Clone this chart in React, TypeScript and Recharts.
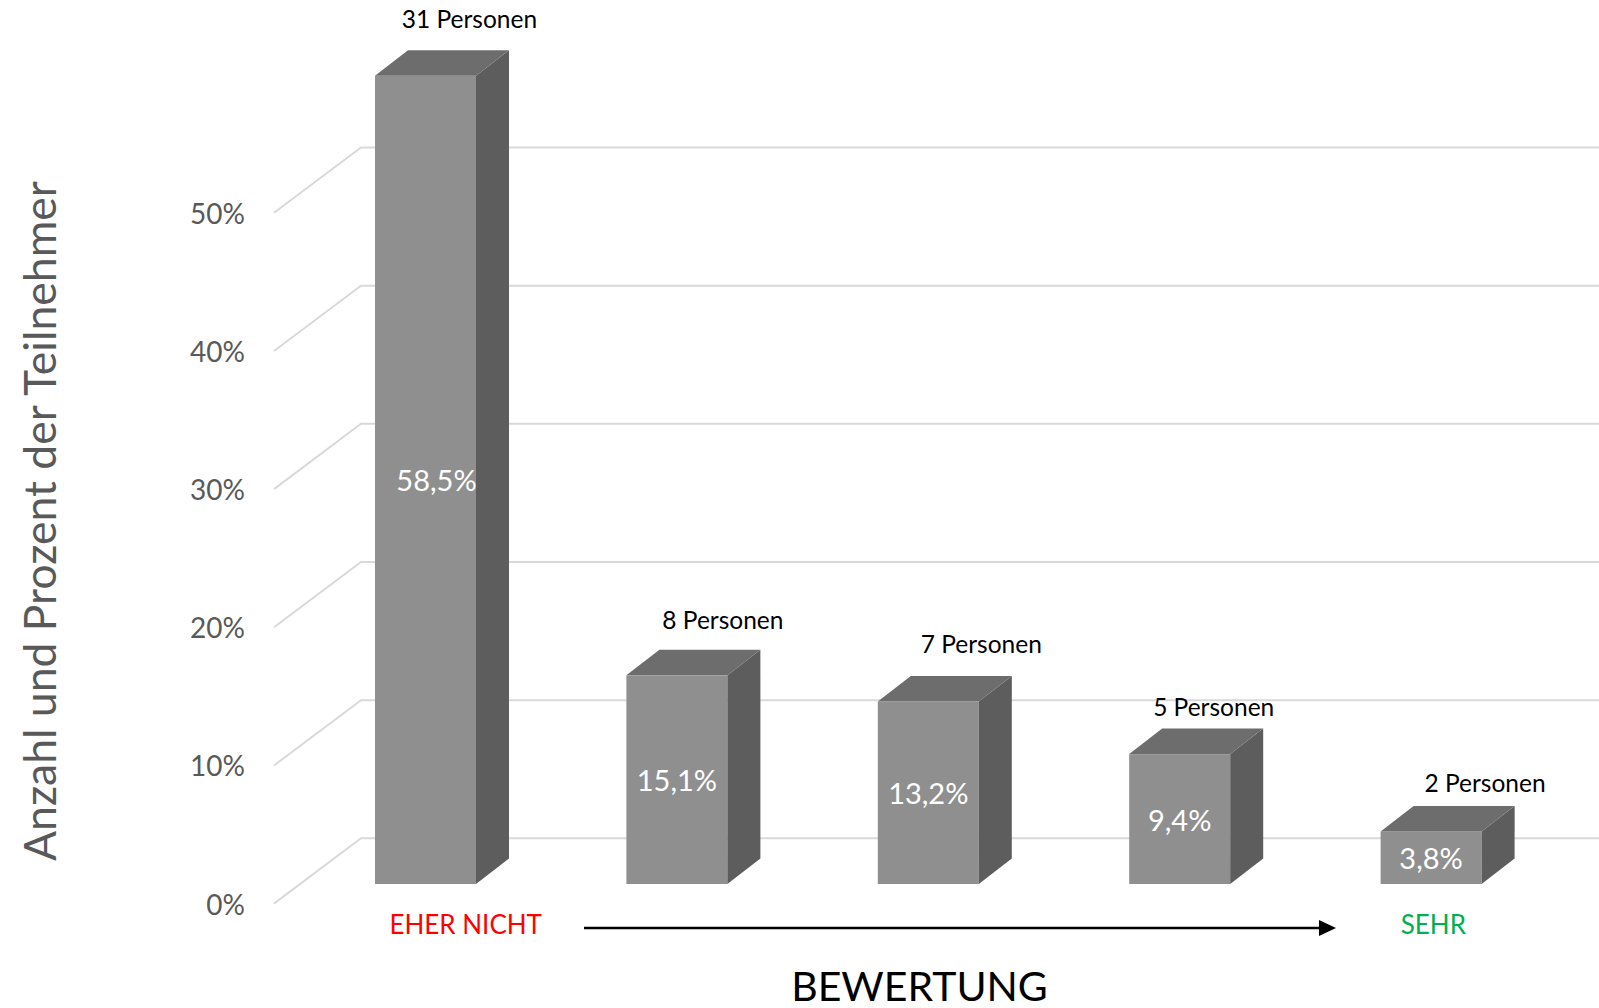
import React from "react";
import { BarChart, Bar, XAxis, YAxis, CartesianGrid, LabelList } from "recharts";

const categories = ["1", "2", "3", "4", "5"];
const percentValues = [58.5, 15.1, 13.2, 9.4, 3.8];
const personCounts = [31, 8, 7, 5, 2];
const categoryLabels = ["EHER NICHT", "", "", "", "SEHR"];
const yTicks = [0, 10, 20, 30, 40, 50];

const data = categories.map((category, i) => ({
  category,
  pct: percentValues[i],
  persons: personCounts[i],
}));

const FONT = "Lato, 'Open Sans', sans-serif";
const labelColors = ["#ff0000", "#000", "#000", "#000", "#00b050"];
const labelShift = [40, 0, 0, 0, 2];
// hand-placed data labels in the original, nudged per bar
const personsNudge = [
  [0, -4],
  [2, -2],
  [9, -5],
  [-10, 6],
  [10, 5],
];
const pctNudge = [11, 0, 0, 0, 0];

// 3d look: depth of a box, and the floor's front / back edge relative to the bar plane
const DEPTH_X = 33;
const DEPTH_Y = 25.5;
const FRONT_DX = -26;
const FRONT_DY = 19.6;
const BACK_DX = 61;
const BACK_DY = -45.7;

const gridLine = (props: any) => {
  const { x1, y1, x2, y } = props;
  if (y1 <= y + 1) return <g />;
  const d = `M${x1 + FRONT_DX},${y1 + FRONT_DY} L${x1 + BACK_DX},${y1 + BACK_DY} L${x2 + BACK_DX},${y1 + BACK_DY}`;
  return <path d={d} stroke="#d9d9d9" strokeWidth={2} fill="none" />;
};

const Box3D = (props: any) => {
  const { x, y, width, height } = props;
  if (!height || height <= 0) return null;
  const r = x + width;
  const top = `M${x},${y} L${x + DEPTH_X},${y - DEPTH_Y} L${r + DEPTH_X},${y - DEPTH_Y} L${r},${y} Z`;
  const side = `M${r},${y} L${r + DEPTH_X},${y - DEPTH_Y} L${r + DEPTH_X},${y + height - DEPTH_Y} L${r},${y + height} Z`;
  return (
    <g>
      <rect x={x} y={y} width={width} height={height} fill="#8f8f8f" />
      <path d={side} fill="#5d5d5d" />
      <path d={top} fill="#6d6d6d" />
    </g>
  );
};

const box = (p: any) => {
  const vb = p.viewBox || {};
  return {
    x: p.x ?? vb.x,
    y: p.y ?? vb.y,
    width: p.width ?? vb.width,
    height: p.height ?? vb.height,
  };
};

const PersonsLabel = (props: any) => {
  const { x, y, width } = box(props);
  const [nx, ny] = personsNudge[props.index] || [0, 0];
  return (
    <text
      x={x + width / 2 + 44 + nx}
      y={y - DEPTH_Y - 28 + ny}
      textAnchor="middle"
      dominantBaseline="central"
      fontSize={24.5}
      fill="#000"
      fontFamily={FONT}
    >
      {`${props.value} Personen`}
    </text>
  );
};

const PctLabel = (props: any) => {
  const { x, y, width, height } = box(props);
  return (
    <text
      x={x + width / 2 + (pctNudge[props.index] || 0)}
      y={y + height / 2}
      textAnchor="middle"
      dominantBaseline="central"
      fontSize={29}
      fill="#fff"
      fontFamily={FONT}
    >
      {`${Number(props.value).toFixed(1).replace(".", ",")}%`}
    </text>
  );
};

const PercentTick = (props: any) => {
  const { y, payload } = props;
  return (
    <text
      x={245}
      y={y + FRONT_DY}
      textAnchor="end"
      dominantBaseline="central"
      fontSize={28}
      fill="#595959"
      fontFamily={FONT}
    >
      {`${payload.value}%`}
    </text>
  );
};

const CategoryTick = (props: any) => {
  const { x, y, payload } = props;
  const i = categories.indexOf(String(payload.value));
  if (i < 0 || !categoryLabels[i]) return null;
  return (
    <text
      x={x + labelShift[i]}
      y={y + 32}
      textAnchor="middle"
      dominantBaseline="central"
      fontSize={26}
      fill={labelColors[i]}
      fontFamily={FONT}
    >
      {categoryLabels[i]}
    </text>
  );
};

const AxisTitle = (props: any) => {
  const vb = props.viewBox || {};
  const ay = vb.y + 44;
  const x1 = vb.x + 284;
  const x2 = vb.x + 1036;
  return (
    <g>
      <line x1={x1} y1={ay} x2={x2 - 14} y2={ay} stroke="#000" strokeWidth={2.5} />
      <path d={`M${x2},${ay} L${x2 - 17},${ay - 8} L${x2 - 17},${ay + 8} Z`} fill="#000" />
      <text
        x={vb.x + vb.width / 2 - 9}
        y={vb.y + 101}
        textAnchor="middle"
        dominantBaseline="central"
        fontSize={41}
        fill="#000"
        fontFamily={FONT}
      >
        BEWERTUNG
      </text>
    </g>
  );
};

const ValueTitle = () => (
  <text
    x={38}
    y={521}
    transform="rotate(-90 38 521)"
    textAnchor="middle"
    dominantBaseline="central"
    fontSize={44.5}
    fill="#595959"
    fontFamily={FONT}
  >
    Anzahl und Prozent der Teilnehmer
  </text>
);

export default function App() {
  return (
    <div style={{ position: "absolute", left: 0, top: 0, background: "#fff" }}>
      <BarChart
        width={1599}
        height={1008}
        data={data}
        margin={{ top: 55, right: 42, bottom: 0, left: 0 }}
        style={{ fontFamily: FONT }}
      >
        <CartesianGrid vertical={false} horizontal={gridLine} />
        <XAxis
          dataKey="category"
          height={124}
          axisLine={false}
          tickLine={false}
          tick={<CategoryTick />}
          label={<AxisTitle />}
        />
        <YAxis
          width={300}
          domain={[0, 60]}
          ticks={yTicks}
          axisLine={false}
          tickLine={false}
          tick={<PercentTick />}
          label={<ValueTitle />}
        />
        <Bar dataKey="pct" barSize={101} shape={<Box3D />} isAnimationActive={false}>
          <LabelList dataKey="persons" content={<PersonsLabel />} />
          <LabelList dataKey="pct" content={<PctLabel />} />
        </Bar>
      </BarChart>
    </div>
  );
}
